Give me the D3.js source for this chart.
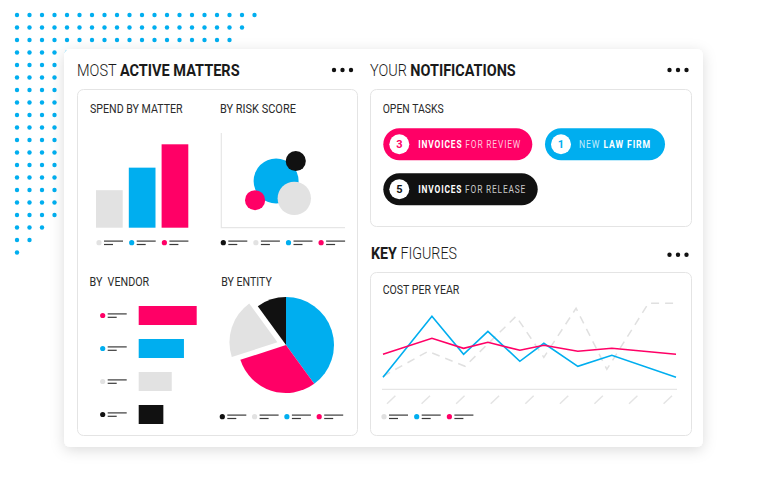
<!DOCTYPE html>
<html><head><meta charset="utf-8">
<script src="https://cdn.jsdelivr.net/npm/d3@7"></script>
<style>
html,body{margin:0;padding:0;background:#fff;}
svg{display:block;font-family:Roboto,"Noto Sans",sans-serif;}
</style></head><body>
<svg id="c" width="768" height="496"></svg>
<script>
// ---------- DATA ----------
const spendCategories = ["Matter A", "Matter B", "Matter C"];
const spendValues = [45, 72, 100];

const riskCategories = ["Risk Blue", "Risk Black", "Risk Gray", "Risk Pink"];
const riskX = [44.3, 60.2, 59, 27.3];
const riskY = [49.3, 70.4, 31, 29];
const riskSize = [100, 20, 55, 20];
const riskLegend = ["Risk Black", "Risk Gray", "Risk Blue", "Risk Pink"];

const vendorCategories = ["Vendor A", "Vendor B", "Vendor C", "Vendor D"];
const vendorValues = [100, 78, 57, 42.5];

const entityCategories = ["Entity A", "Entity B", "Entity C", "Entity D"];
const entityValues = [40, 30, 20, 10];
const entityLegend = ["Entity D", "Entity C", "Entity A", "Entity B"];

const yearLabels = ["2012", "2013", "2014", "2015", "2016", "2017", "2018", "2019", "2020"];
const costSeries = ["Series Gray", "Series Blue", "Series Pink"];
const grayX = [0, 15.4, 28, 45.4, 54.9, 65.9, 76.4, 90.6, 100];
const grayY = [13, 38, 23, 73, 32, 81, 20, 86, 86];
const blueX = [0, 16.7, 27.5, 35.8, 46.7, 54.9, 66.5, 78.1, 100];
const blueY = [12, 73, 35, 58, 28, 46, 23, 34, 12];
const pinkX = [0, 16.7, 27.5, 35.8, 46.7, 54.9, 66.5, 78.1, 100];
const pinkY = [35, 51, 41, 47, 39, 44, 38, 41, 35];

const tasks = [
  {count: "3", bold: "INVOICES", light: " FOR REVIEW", boldFirst: true},
  {count: "1", bold: "LAW FIRM", light: "NEW ", boldFirst: false},
  {count: "5", bold: "INVOICES", light: " FOR RELEASE", boldFirst: true}
];

// ---------- STYLE ----------
const PINK = "#ff0066", BLUE = "#00aeef", GRAY = "#e2e2e2", BLACK = "#111111";
const spendColor = d3.scaleOrdinal(spendCategories, [GRAY, BLUE, PINK]);
const riskColor = d3.scaleOrdinal(riskCategories, [BLUE, BLACK, GRAY, PINK]);
const vendorColor = d3.scaleOrdinal(vendorCategories, [PINK, BLUE, GRAY, BLACK]);
const entityColor = d3.scaleOrdinal(entityCategories, [BLUE, PINK, GRAY, BLACK]);
const seriesColor = d3.scaleOrdinal(costSeries, ["#e0e0e0", BLUE, PINK]);
const taskColor = [PINK, BLUE, BLACK];

const svg = d3.select("#c");
const defs = svg.append("defs");
const f = defs.append("filter").attr("id", "sh").attr("x", "-10%").attr("y", "-10%").attr("width", "120%").attr("height", "125%");
f.append("feDropShadow").attr("dx", 0).attr("dy", 3).attr("stdDeviation", 7).attr("flood-color", "#000").attr("flood-opacity", 0.14);

// dot triangle decoration
const dots = svg.append("g");
for (let i = 0; i < 20; i++) {
  for (let j = 0; j < 20 - i; j++) {
    dots.append("circle").attr("cx", 17 + 12.5 * j).attr("cy", 15 + 12.5 * i).attr("r", 2.2).attr("fill", BLUE);
  }
}

// main card
svg.append("rect").attr("x", 64).attr("y", 49).attr("width", 639).attr("height", 398).attr("rx", 6)
  .attr("fill", "#fff").attr("filter", "url(#sh)");

// inner cards
function innerCard(x, y, w, h) {
  svg.append("rect").attr("x", x + 0.5).attr("y", y + 0.5).attr("width", w).attr("height", h).attr("rx", 6)
    .attr("fill", "#fff").attr("stroke", "#e4e4e4").attr("stroke-width", 1);
}
innerCard(77, 89, 280, 346);
innerCard(370, 89, 321, 137);
innerCard(370, 272, 321, 163);

function fitText(sel, x, y, width) {
  const w = sel.node().getBBox().width;
  sel.attr("transform", `translate(${x},${y}) scale(${width / w},1)`);
}
function title(parts, x, y, width) {
  const t = svg.append("text").attr("font-size", 16).attr("fill", "#1a1a1a");
  parts.forEach(p => t.append("tspan").attr("font-weight", p[1]).text(p[0]));
  fitText(t, x, y, width);
}
title([["MOST ", 300], ["ACTIVE MATTERS", 700]], 77, 76, 163);
title([["YOUR ", 300], ["NOTIFICATIONS", 700]], 370, 76, 146);
title([["KEY ", 700], ["FIGURES", 300]], 371, 259, 86);

function label(txt, x, y, width) {
  const t = svg.append("text").attr("font-size", 12.5).attr("fill", "#2a2a2a").attr("font-weight", 400)
    .style("white-space", "pre").text(txt);
  fitText(t, x, y, width);
}
label("SPEND BY MATTER", 90, 112.7, 93);
label("BY RISK SCORE", 220, 112.7, 76);
label("BY  VENDOR", 89.5, 286, 60);
label("BY ENTITY", 221.3, 286, 51);
label("OPEN TASKS", 382.7, 112.7, 61);
label("COST PER YEAR", 382.7, 294.3, 77);

function moreDots(cy) {
  [669.5, 678, 686.5].forEach(cx => svg.append("circle").attr("cx", cx).attr("cy", cy).attr("r", 2.2).attr("fill", "#111"));
}
[334, 342.5, 351].forEach(cx => svg.append("circle").attr("cx", cx).attr("cy", 70).attr("r", 2.2).attr("fill", "#111"));
moreDots(70);
moreDots(254.7);

function legendItem(g, x, y, color) {
  g.append("circle").attr("cx", x).attr("cy", y).attr("r", 2.6).attr("fill", color);
  g.append("line").attr("x1", x + 5).attr("x2", x + 24).attr("y1", y - 1.6).attr("y2", y - 1.6).attr("stroke", "#3a3a3a").attr("stroke-width", 1.2);
  g.append("line").attr("x1", x + 5).attr("x2", x + 14).attr("y1", y + 1.8).attr("y2", y + 1.8).attr("stroke", "#3a3a3a").attr("stroke-width", 1.2);
}

// ---------- SPEND BY MATTER ----------
const sx = d3.scaleBand(spendCategories, [96, 188.3]).paddingInner(0.186);
const sy = d3.scaleLinear([0, 100], [227.7, 144.3]);
svg.append("g").selectAll("rect").data(spendCategories).join("rect")
  .attr("x", d => sx(d)).attr("width", sx.bandwidth())
  .attr("y", (d, i) => sy(spendValues[i])).attr("height", (d, i) => sy(0) - sy(spendValues[i]))
  .attr("fill", d => spendColor(d));
const spendLeg = svg.append("g");
spendCategories.forEach((c, i) => legendItem(spendLeg, 99 + i * 32.7, 242.7, spendColor(c)));

// ---------- BY RISK SCORE ----------
const rx = d3.scaleLinear([0, 100], [221.3, 345]);
const ry = d3.scaleLinear([0, 100], [227.7, 133]);
const rr = d3.scaleSqrt([0, 100], [0, 22.5]);
svg.append("path").attr("d", `M${rx(0)},${ry(100)}V${ry(0)}H${rx(100)}`).attr("fill", "none").attr("stroke", "#e6e6e6").attr("stroke-width", 1.2);
svg.append("g").selectAll("circle").data(riskCategories).join("circle")
  .attr("cx", (d, i) => rx(riskX[i])).attr("cy", (d, i) => ry(riskY[i])).attr("r", (d, i) => rr(riskSize[i]))
  .attr("fill", d => riskColor(d));
const riskLeg = svg.append("g");
riskLegend.forEach((c, i) => legendItem(riskLeg, 223.3 + i * 32.6, 242.7, riskColor(c)));

// ---------- BY VENDOR ----------
const vx = d3.scaleLinear([0, 100], [138.7, 196.7]);
const vy = d3.scaleBand(vendorCategories, [306, 424]).paddingInner(0.424);
svg.append("g").selectAll("rect").data(vendorCategories).join("rect")
  .attr("x", vx(0)).attr("width", (d, i) => vx(vendorValues[i]) - vx(0))
  .attr("y", d => vy(d)).attr("height", vy.bandwidth()).attr("fill", d => vendorColor(d));
const vendLeg = svg.append("g");
vendorCategories.forEach(c => legendItem(vendLeg, 102.7, vy(c) + vy.bandwidth() / 2, vendorColor(c)));

// ---------- BY ENTITY ----------
const pie = d3.pie().sort(null).value((d, i) => entityValues[i]);
const arcs = pie(entityCategories);
const arc = d3.arc().innerRadius(0).outerRadius(48);
const pg = svg.append("g").attr("transform", "translate(286,345)");
pg.selectAll("path").data(arcs).join("path")
  .attr("d", arc).attr("fill", d => entityColor(d.data))
  .attr("transform", d => {
    if (d.data !== "Entity C") return null;
    const a = (d.startAngle + d.endAngle) / 2;
    return `translate(${Math.sin(a) * 9},${-Math.cos(a) * 9})`;
  });
const entLeg = svg.append("g");
entityLegend.forEach((c, i) => legendItem(entLeg, 222.3 + i * 32.3, 416.7, entityColor(c)));

// ---------- OPEN TASKS ----------
const pills = [
  {x: 383.3, y: 128.3, w: 149, tx: 418.3, tw: 103},
  {x: 545, y: 128.3, w: 120, tx: 579, tw: 72},
  {x: 383.3, y: 173.3, w: 154.4, tx: 418.3, tw: 108}
];
tasks.forEach((t, i) => {
  const p = pills[i];
  const g = svg.append("g");
  g.append("rect").attr("x", p.x).attr("y", p.y).attr("width", p.w).attr("height", 32).attr("rx", 16).attr("fill", taskColor[i]);
  g.append("circle").attr("cx", p.x + 16).attr("cy", p.y + 16).attr("r", 10).attr("fill", "#fff");
  g.append("text").attr("x", p.x + 16).attr("y", p.y + 19.8).attr("text-anchor", "middle")
    .attr("font-size", 11).attr("font-weight", 700).attr("fill", taskColor[i]).text(t.count);
  const tt = g.append("text").attr("font-size", 10).attr("letter-spacing", 1).attr("fill", "#fff");
  if (t.boldFirst) {
    tt.append("tspan").attr("font-weight", 700).text(t.bold);
    tt.append("tspan").attr("font-weight", 400).attr("fill-opacity", 0.78).style("white-space", "pre").text(t.light);
  } else {
    tt.append("tspan").attr("font-weight", 400).attr("fill-opacity", 0.78).style("white-space", "pre").text(t.light);
    tt.append("tspan").attr("font-weight", 700).text(t.bold);
  }
  fitText(tt, p.tx, p.y + 19.5, p.tw);
});

// ---------- COST PER YEAR ----------
const lx = d3.scaleLinear([0, 100], [383, 676]);
const ly = d3.scaleLinear([0, 100], [389.3, 289.3]);
svg.append("line").attr("x1", 382).attr("x2", 677).attr("y1", ly(0)).attr("y2", ly(0)).attr("stroke", "#e6e6e6").attr("stroke-width", 1.2);
const xp = d3.scalePoint(yearLabels, [390.7, 667.3]);
const axisG = svg.append("g").attr("transform", `translate(0,${ly(0)})`)
  .call(d3.axisBottom(xp).tickSize(0).tickFormat(""));
axisG.select(".domain").remove();
axisG.selectAll(".tick").append("line")
  .attr("x1", -4.2).attr("y1", 14.5).attr("x2", 4.2).attr("y2", 6.5)
  .attr("stroke", "#e4e4e4").attr("stroke-width", 1.5);
const line = d3.line().x(d => lx(d[0])).y(d => ly(d[1]));
svg.append("path").attr("d", line(d3.zip(grayX, grayY))).attr("fill", "none")
  .attr("stroke", seriesColor("Series Gray")).attr("stroke-width", 1.5).attr("stroke-dasharray", "8,6");
svg.append("path").attr("d", line(d3.zip(blueX, blueY))).attr("fill", "none")
  .attr("stroke", seriesColor("Series Blue")).attr("stroke-width", 1.6).attr("stroke-linejoin", "miter");
svg.append("path").attr("d", line(d3.zip(pinkX, pinkY))).attr("fill", "none")
  .attr("stroke", seriesColor("Series Pink")).attr("stroke-width", 1.6);
const costLeg = svg.append("g");
costSeries.forEach((c, i) => legendItem(costLeg, 384 + i * 32.7, 416.7, seriesColor(c)));
</script>
</body></html>
